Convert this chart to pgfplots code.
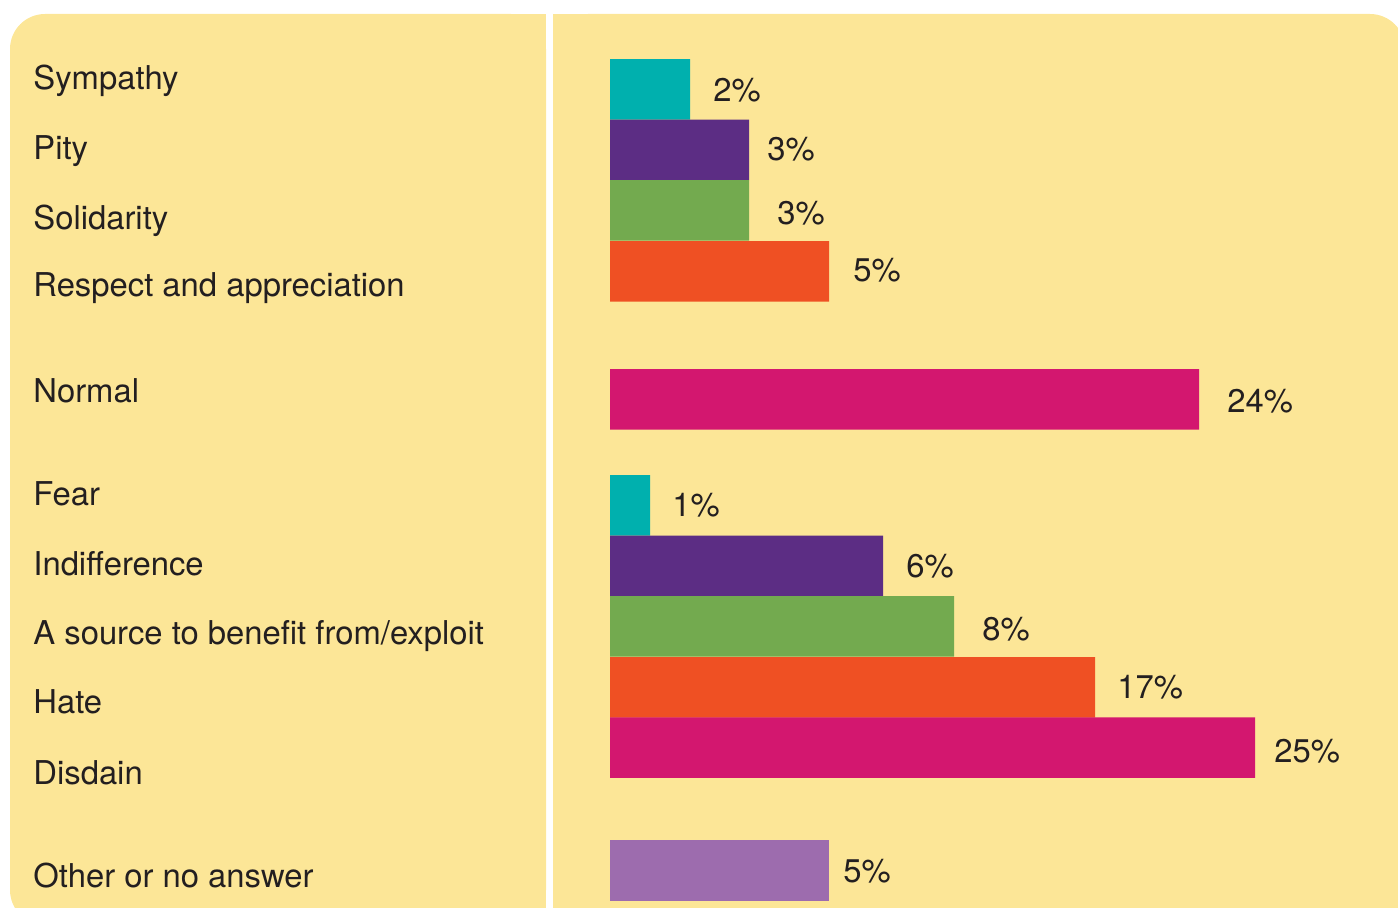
\documentclass[border=0pt]{standalone}
\usepackage{fontspec}
\setmainfont{TeX Gyre Heros}
\usepackage{pgfplots}
\usepackage{pgfplotstable}
\pgfplotsset{compat=1.18}

\definecolor{panel}{HTML}{FCE697}
\definecolor{cteal}{HTML}{00B0AE}
\definecolor{cpurple}{HTML}{5C2D84}
\definecolor{cgreen}{HTML}{73AA4F}
\definecolor{corange}{HTML}{EF5023}
\definecolor{cmagenta}{HTML}{D3176F}
\definecolor{clavender}{HTML}{9D6CAE}
\definecolor{txt}{HTML}{231F20}

% category names, left aligned in the left panel (x, baseline y)
\pgfplotstableread[col sep=comma]{
x,y,lab
-577,89.5,Sympathy
-577,159.5,Pity
-577,229.5,Solidarity
-577,297,Respect and appreciation
-577,402.5,Normal
-577,506,Fear
-577,575.5,Indifference
-577,644.5,A source to benefit from/exploit
-577,713.5,Hate
-577,784.5,Disdain
-577,887.5,Other or no answer
}\cattable

% value labels beside the bars
\pgfplotstableread[col sep=comma]{
x,y,lab
103,101.5,2\%
157,160.5,3\%
167,224.5,3\%
243,282,5\%
617,413,24\%
62,516.5,1\%
296,577.5,6\%
372,640.5,8\%
507,698,17\%
664,762.5,25\%
233,882,5\%
}\pcttable

\begin{document}
\begin{tikzpicture}
\begin{axis}[
    width=699pt, height=454pt,
    scale only axis,
    xmin=-610, xmax=788,
    ymin=0, ymax=908,
    y dir=reverse,
    hide axis,
    every node near coord/.append style={
        font=\fontsize{16.4}{19}\selectfont, text=txt, inner sep=0pt},
]
% panels
\fill[panel, rounded corners=17.5pt] (axis cs:-600,14) rectangle (axis cs:-64,925);
\fill[panel] (axis cs:-300,14) rectangle (axis cs:-64,925);
\fill[panel, rounded corners=17.5pt] (axis cs:-57,14) rectangle (axis cs:795,925);
\fill[panel] (axis cs:-57,14) rectangle (axis cs:500,925);

% bars (length in drawn units, centre y)
\addplot[xbar, bar width=60.5, bar shift=0pt, fill=cteal, draw=none]
    coordinates {(80,89.5) (40,505.5)};
\addplot[xbar, bar width=60.5, bar shift=0pt, fill=cpurple, draw=none]
    coordinates {(139,150) (273,566)};
\addplot[xbar, bar width=60.5, bar shift=0pt, fill=cgreen, draw=none]
    coordinates {(139,210.5) (344,626.5)};
\addplot[xbar, bar width=60.5, bar shift=0pt, fill=corange, draw=none]
    coordinates {(219,271.3) (485,687.3)};
\addplot[xbar, bar width=60.5, bar shift=0pt, fill=cmagenta, draw=none]
    coordinates {(589,399.3) (645,747.7)};
\addplot[xbar, bar width=60.5, bar shift=0pt, fill=clavender, draw=none]
    coordinates {(219,870.3)};

% labels
\addplot[draw=none, nodes near coords, point meta=explicit symbolic,
    nodes near coords align={anchor=base west}]
    table[x=x, y=y, meta=lab] {\cattable};
\addplot[draw=none, nodes near coords, point meta=explicit symbolic,
    nodes near coords align={anchor=base west}]
    table[x=x, y=y, meta=lab] {\pcttable};
\end{axis}
\pgfresetboundingbox
\useasboundingbox (current axis.south west) rectangle (current axis.north east);
\end{tikzpicture}
\end{document}
